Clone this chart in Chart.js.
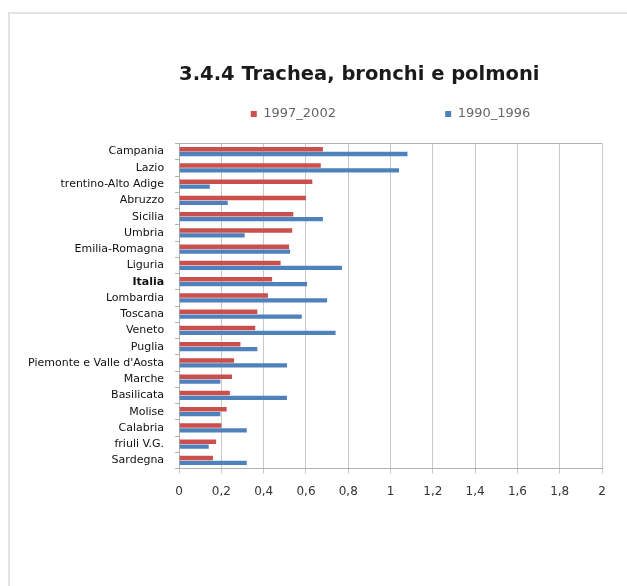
<!DOCTYPE html>
<html>
<head>
<meta charset="utf-8">
<script src="https://cdn.jsdelivr.net/npm/chart.js@4"></script>
<style>
  html, body { margin: 0; padding: 0; background: #fff; overflow: hidden; }
  #frame { position: absolute; left: 8px; top: 12px; width: 640px; height: 600px; border: 2px solid #e2e2e2; }
  #wrap { position: absolute; left: 0; top: 0; width: 627px; height: 586px; }
</style>
</head>
<body>
<div id="frame"></div>
<div id="wrap"><canvas id="tumoriChart" width="627" height="586"></canvas></div>
<script>
  var regioni = [
    "Campania", "Lazio", "trentino-Alto Adige", "Abruzzo", "Sicilia", "Umbria",
    "Emilia-Romagna", "Liguria", "Italia", "Lombardia", "Toscana", "Veneto",
    "Puglia", "Piemonte e Valle d'Aosta", "Marche", "Basilicata", "Molise",
    "Calabria", "friuli V.G.", "Sardegna"
  ];

  var valori_1997_2002 = [0.68, 0.67, 0.63, 0.60, 0.54, 0.535, 0.52, 0.48, 0.44, 0.42,
    0.37, 0.36, 0.29, 0.26, 0.25, 0.24, 0.225, 0.20, 0.175, 0.16];
  var valori_1990_1996 = [1.08, 1.04, 0.145, 0.23, 0.68, 0.31, 0.525, 0.77, 0.605, 0.70,
    0.58, 0.74, 0.37, 0.51, 0.195, 0.51, 0.195, 0.32, 0.14, 0.32];

  var ctx = document.getElementById('tumoriChart').getContext('2d');

  // extra space under the legend
  var legendGap = {
    id: 'legendGap',
    beforeInit: function(chart) {
      var fit = chart.legend.fit;
      chart.legend.fit = function() {
        fit.bind(chart.legend)();
        this.height += 13;
      };
    }
  };

  var myChart = new Chart(ctx, {
    type: 'bar',
    data: {
      labels: regioni,
      datasets: [
        {
          label: '1997_2002',
          data: valori_1997_2002,
          backgroundColor: '#c9504d'
        },
        {
          label: '1990_1996',
          data: valori_1990_1996,
          backgroundColor: '#4f81bd'
        }
      ]
    },
    plugins: [legendGap],
    options: {
      indexAxis: 'y',
      responsive: false,
      animation: false,
      categoryPercentage: 0.6,
      barPercentage: 0.9,
      layout: {
        padding: { top: 65, left: 17, right: 25, bottom: 76 }
      },
      plugins: {
        title: {
          display: true,
          fullSize: false,
          align: 'start',
          text: '3.4.4 Trachea, bronchi e polmoni',
          color: '#1a1a1a',
          font: { family: 'DejaVu Sans', size: 19.5, weight: 'bold', lineHeight: 1 },
          padding: { top: 0, bottom: 0 }
        },
        legend: {
          fullSize: false,
          labels: {
            boxWidth: 6,
            boxHeight: 6,
            padding: 23,
            color: '#666',
            font: { family: 'DejaVu Sans', size: 13 },
            generateLabels: function(chart) {
              var items = Chart.defaults.plugins.legend.labels.generateLabels(chart);
              items.forEach(function(it, i) {
                if (i === 0) it.text = it.text + '\u2003\u2003\u2003\u2003\u2003\u2003  ';
              });
              return items;
            }
          }
        },
        tooltip: { enabled: false }
      },
      scales: {
        x: {
          min: 0,
          max: 2,
          ticks: {
            stepSize: 0.2,
            padding: 11,
            maxRotation: 0,
            autoSkip: false,
            color: '#333',
            font: { family: 'DejaVu Sans', size: 12 },
            callback: function(v) { return String(Math.round(v * 10) / 10).replace('.', ','); }
          },
          grid: { color: '#c8c8c8', tickLength: 5 },
          border: { color: '#b0b0b0' }
        },
        y: {
          ticks: {
            color: '#111',
            padding: 11,
            autoSkip: false,
            font: function(c) {
              return {
                family: 'DejaVu Sans',
                size: 11,
                weight: (c.tick && c.tick.label === 'Italia') ? 'bold' : 'normal'
              };
            }
          },
          grid: {
            tickLength: 4,
            color: function(c) { return c.index === 0 ? '#b0b0b0' : 'rgba(0,0,0,0)'; },
            tickColor: '#b0b0b0'
          },
          border: { color: '#b0b0b0' }
        }
      }
    }
  });
</script>
</body>
</html>
